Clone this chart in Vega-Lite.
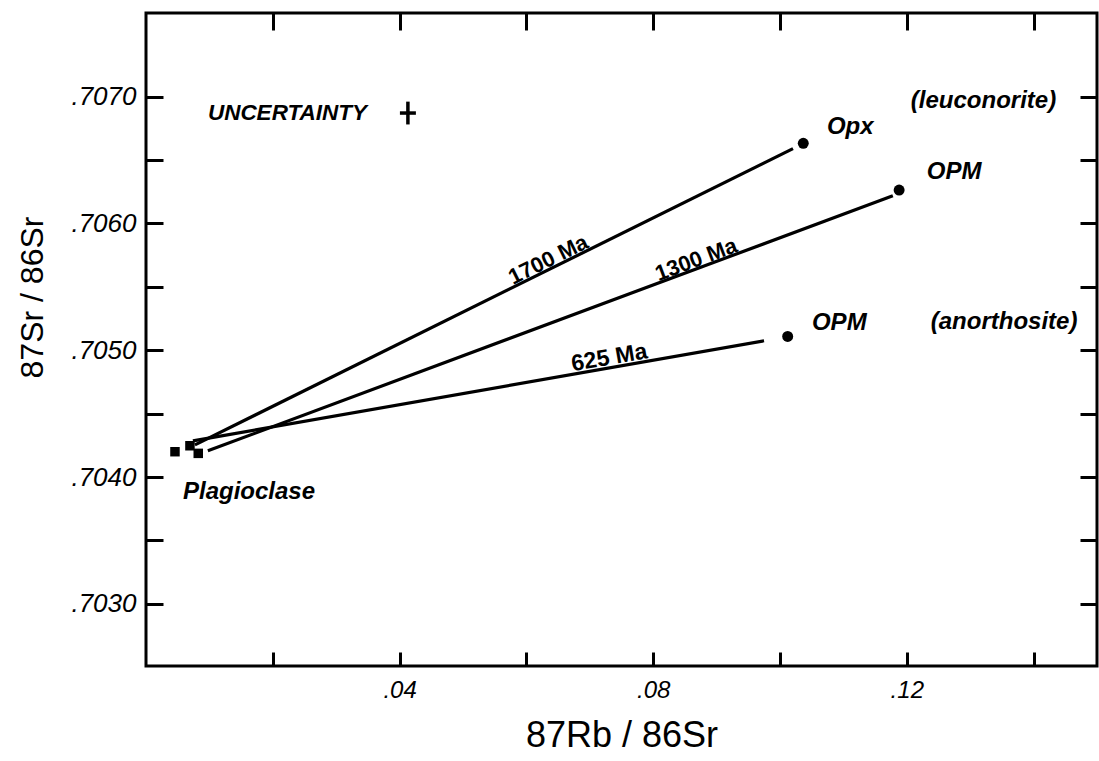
{
  "$schema": "https://vega.github.io/schema/vega-lite/v6.json",
  "width": 951,
  "height": 653,
  "autosize": "none",
  "padding": {"left": 146, "top": 13, "right": 2, "bottom": 95},
  "background": "white",
  "config": {
    "view": {"stroke": "black", "strokeWidth": 3},
    "font": "Liberation Sans",
    "axis": {
      "domain": false,
      "grid": false,
      "tickColor": "black",
      "tickWidth": 3,
      "labelColor": "black",
      "labelFont": "Liberation Sans",
      "labelFontStyle": "italic",
      "labelFontSize": 25,
      "titleColor": "black",
      "titleFont": "Liberation Sans",
      "titleFontWeight": "normal"
    }
  },
  "datasets": {
    "isochrons": [
      {"age": "1700 Ma", "x": 0.00772, "y": 0.704254},
      {"age": "1700 Ma", "x": 0.10205, "y": 0.706590},
      {"age": "1300 Ma", "x": 0.00976, "y": 0.704207},
      {"age": "1300 Ma", "x": 0.11780, "y": 0.706219},
      {"age": "625 Ma", "x": 0.00740, "y": 0.704286},
      {"age": "625 Ma", "x": 0.09748, "y": 0.705075}
    ],
    "plagioclase": [
      {"x": 0.00457, "y": 0.704200},
      {"x": 0.00693, "y": 0.704247},
      {"x": 0.00824, "y": 0.704187}
    ],
    "minerals": [
      {"mineral": "Opx (leuconorite)", "x": 0.10367, "y": 0.706632},
      {"mineral": "OPM (leuconorite)", "x": 0.11879, "y": 0.706264},
      {"mineral": "OPM (anorthosite)", "x": 0.10121, "y": 0.705109}
    ],
    "labels": [
      {"text": "Opx", "x": 0.10740, "y": 0.706763},
      {"text": "(leuconorite)", "x": 0.12063, "y": 0.706968},
      {"text": "OPM", "x": 0.12315, "y": 0.706408},
      {"text": "OPM", "x": 0.10504, "y": 0.705217},
      {"text": "(anorthosite)", "x": 0.12378, "y": 0.705225},
      {"text": "Plagioclase", "x": 0.00583, "y": 0.703884}
    ],
    "uncertaintyText": [
      {"text": "UNCERTAINTY", "x": 0.00976, "y": 0.706874}
    ],
    "ages": [
      {"text": "1700 Ma", "x": 0.06346, "y": 0.705714},
      {"text": "1300 Ma", "x": 0.08677, "y": 0.705714},
      {"text": "625 Ma", "x": 0.07307, "y": 0.704941}
    ],
    "uncertainty": [
      {"x": 0.04131, "y": 0.706871, "xlo": 0.04005, "xhi": 0.04257, "ylo": 0.706781, "yhi": 0.706961}
    ]
  },
  "layer": [
    {
      "data": {"name": "isochrons"},
      "mark": {"type": "line", "color": "black", "strokeWidth": 3.2},
      "encoding": {
        "detail": {"field": "age", "type": "nominal"},
        "x": {"field": "x", "type": "quantitative",
          "scale": {"domain": [0, 0.15], "nice": false, "zero": false},
          "axis": {"orient": "bottom", "values": [0.02, 0.04, 0.06, 0.08, 0.1, 0.12, 0.14],
            "tickSize": -14, "labelPadding": 26, "labelFontSize": 24,
            "labelExpr": "indexof(['0.04','0.08','0.12'], format(datum.value,'.2f')) >= 0 ? replace(format(datum.value,'.2f'),'0.','.') : ''",
            "title": "87Rb / 86Sr", "titleFontSize": 36, "titleY": 69, "titleBaseline": "middle"}},
        "y": {"field": "y", "type": "quantitative",
          "scale": {"domain": [0.70251, 0.70766], "nice": false, "zero": false},
          "axis": {"orient": "left", "values": [0.703, 0.7035, 0.704, 0.7045, 0.705, 0.7055, 0.706, 0.7065, 0.707],
            "tickSize": -17, "labelPadding": 27, "labelFontSize": 26,
            "labelExpr": "round(datum.value*2000) % 2 == 0 ? replace(format(datum.value,'.4f'),'0.','.') : ''",
            "title": "87Sr / 86Sr", "titleFontSize": 32, "titleX": -114, "titleY": 284, "titleBaseline": "middle", "titleAngle": 270}}
      }
    },
    {
      "data": {"name": "minerals"},
      "mark": {"type": "point", "shape": "circle", "filled": true, "color": "black", "opacity": 1, "size": 120},
      "encoding": {
        "x": {"field": "x", "type": "quantitative",
          "scale": {"domain": [0, 0.15], "nice": false, "zero": false},
          "axis": {"orient": "top", "values": [0.02, 0.04, 0.06, 0.08, 0.1, 0.12, 0.14],
            "tickSize": -17, "labels": false, "title": null}},
        "y": {"field": "y", "type": "quantitative",
          "scale": {"domain": [0.70251, 0.70766], "nice": false, "zero": false},
          "axis": {"orient": "right", "values": [0.703, 0.7035, 0.704, 0.7045, 0.705, 0.7055, 0.706, 0.7065, 0.707],
            "tickSize": -17, "labels": false, "title": null}}
      }
    },
    {
      "data": {"name": "plagioclase"},
      "mark": {"type": "point", "shape": "square", "filled": true, "color": "black", "opacity": 1, "size": 90},
      "encoding": {
        "x": {"field": "x", "type": "quantitative", "scale": {"domain": [0, 0.15], "nice": false, "zero": false}, "axis": null},
        "y": {"field": "y", "type": "quantitative", "scale": {"domain": [0.70251, 0.70766], "nice": false, "zero": false}, "axis": null}
      }
    },
    {
      "data": {"name": "uncertainty"},
      "mark": {"type": "rule", "color": "black", "strokeWidth": 3.5},
      "encoding": {
        "x": {"field": "xlo", "type": "quantitative", "scale": {"domain": [0, 0.15], "nice": false, "zero": false}, "axis": null},
        "x2": {"field": "xhi"},
        "y": {"field": "y", "type": "quantitative", "scale": {"domain": [0.70251, 0.70766], "nice": false, "zero": false}, "axis": null}
      }
    },
    {
      "data": {"name": "uncertainty"},
      "mark": {"type": "rule", "color": "black", "strokeWidth": 3.5},
      "encoding": {
        "x": {"field": "x", "type": "quantitative", "scale": {"domain": [0, 0.15], "nice": false, "zero": false}, "axis": null},
        "y": {"field": "ylo", "type": "quantitative", "scale": {"domain": [0.70251, 0.70766], "nice": false, "zero": false}, "axis": null},
        "y2": {"field": "yhi"}
      }
    },
    {
      "data": {"name": "labels"},
      "mark": {"type": "text", "align": "left", "baseline": "middle", "fontSize": 24, "fontStyle": "italic", "fontWeight": "bold", "color": "black"},
      "encoding": {
        "text": {"field": "text"},
        "x": {"field": "x", "type": "quantitative", "scale": {"domain": [0, 0.15], "nice": false, "zero": false}, "axis": null},
        "y": {"field": "y", "type": "quantitative", "scale": {"domain": [0.70251, 0.70766], "nice": false, "zero": false}, "axis": null}
      }
    },
    {
      "data": {"name": "uncertaintyText"},
      "mark": {"type": "text", "align": "left", "baseline": "middle", "fontSize": 22.5, "fontStyle": "italic", "fontWeight": "bold", "color": "black"},
      "encoding": {
        "text": {"field": "text"},
        "x": {"field": "x", "type": "quantitative", "scale": {"domain": [0, 0.15], "nice": false, "zero": false}, "axis": null},
        "y": {"field": "y", "type": "quantitative", "scale": {"domain": [0.70251, 0.70766], "nice": false, "zero": false}, "axis": null}
      }
    },
    {
      "data": {"name": "ages"},
      "transform": [{"filter": "datum.text == '1700 Ma'"}],
      "mark": {"type": "text", "align": "center", "baseline": "middle", "fontSize": 22, "fontWeight": "bold", "angle": -26.4, "color": "black"},
      "encoding": {
        "text": {"field": "text"},
        "x": {"field": "x", "type": "quantitative", "scale": {"domain": [0, 0.15], "nice": false, "zero": false}, "axis": null},
        "y": {"field": "y", "type": "quantitative", "scale": {"domain": [0.70251, 0.70766], "nice": false, "zero": false}, "axis": null}
      }
    },
    {
      "data": {"name": "ages"},
      "transform": [{"filter": "datum.text == '1300 Ma'"}],
      "mark": {"type": "text", "align": "center", "baseline": "middle", "fontSize": 22, "fontWeight": "bold", "angle": -20.5, "color": "black"},
      "encoding": {
        "text": {"field": "text"},
        "x": {"field": "x", "type": "quantitative", "scale": {"domain": [0, 0.15], "nice": false, "zero": false}, "axis": null},
        "y": {"field": "y", "type": "quantitative", "scale": {"domain": [0.70251, 0.70766], "nice": false, "zero": false}, "axis": null}
      }
    },
    {
      "data": {"name": "ages"},
      "transform": [{"filter": "datum.text == '625 Ma'"}],
      "mark": {"type": "text", "align": "center", "baseline": "middle", "fontSize": 23, "fontWeight": "bold", "angle": -9.9, "color": "black"},
      "encoding": {
        "text": {"field": "text"},
        "x": {"field": "x", "type": "quantitative", "scale": {"domain": [0, 0.15], "nice": false, "zero": false}, "axis": null},
        "y": {"field": "y", "type": "quantitative", "scale": {"domain": [0.70251, 0.70766], "nice": false, "zero": false}, "axis": null}
      }
    }
  ],
  "resolve": {"axis": {"x": "independent", "y": "independent"}}
}
